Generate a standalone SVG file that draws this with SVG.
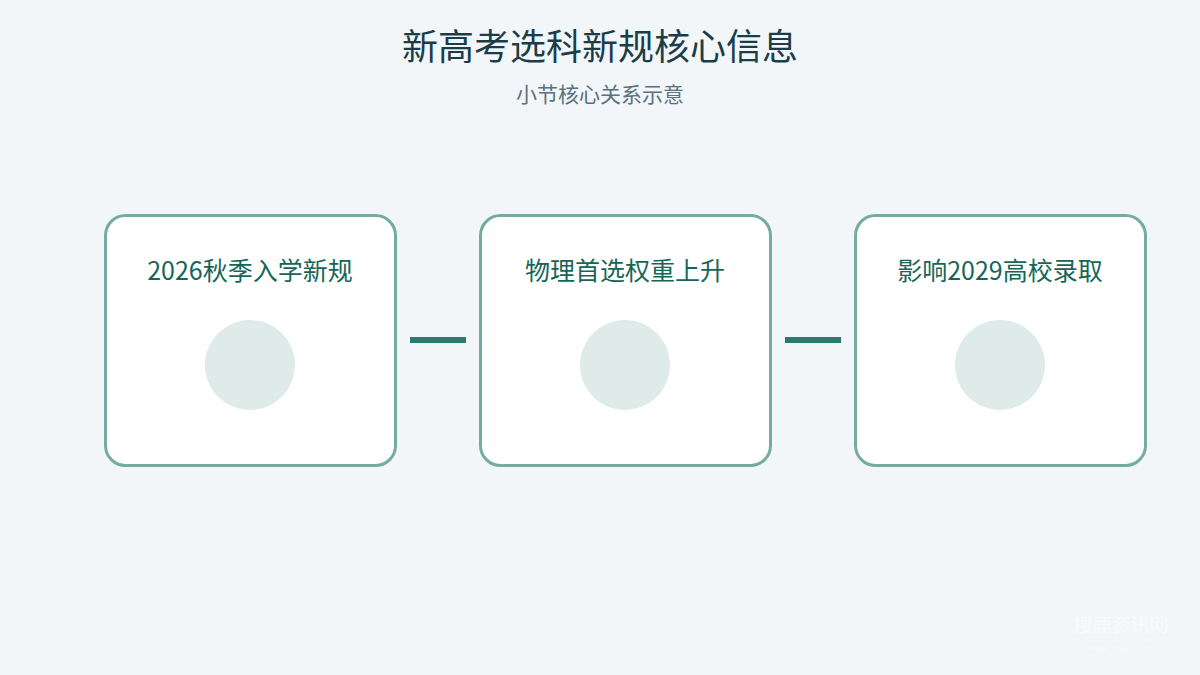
<svg xmlns="http://www.w3.org/2000/svg" width="1200" height="675" viewBox="0 0 1200 675">
<style>
.bg{fill:#f2f6f9}
.title{font-family:"Noto Sans CJK SC","Noto Sans",sans-serif;font-size:36px;fill:#1b3d48;text-anchor:middle;font-weight:400}
.sub{font-family:"Noto Sans CJK SC","Noto Sans",sans-serif;font-size:21px;fill:#5a717c;text-anchor:middle}
.card{fill:#ffffff;stroke:#74ad9f;stroke-width:3}
.label{font-family:"Noto Sans CJK SC","Noto Sans",sans-serif;font-size:25px;fill:#166658;text-anchor:middle}
.dot{fill:#deebe8}
.conn{fill:#2e7a70}
.wm{font-family:"Noto Sans CJK SC","Noto Sans",sans-serif;fill:#ffffff;fill-opacity:0.55;text-anchor:middle}
</style>
<rect class="bg" x="0" y="0" width="1200" height="675"/>
<text class="title" x="600" y="60">新高考选科新规核心信息</text>
<text class="sub" x="600" y="102">小节核心关系示意</text>
<g id="connectors">
<rect class="conn" x="410" y="337" width="56" height="6"/>
<rect class="conn" x="785" y="337" width="56" height="6"/>
</g>
<g id="node1">
<rect class="card" x="105.5" y="215.5" width="290" height="250" rx="20"/>
<text class="label" x="250" y="280">2026秋季入学新规</text>
<circle class="dot" cx="250" cy="365" r="45"/>
</g>
<g id="node2">
<rect class="card" x="480.5" y="215.5" width="290" height="250" rx="20"/>
<text class="label" x="625" y="280">物理首选权重上升</text>
<circle class="dot" cx="625" cy="365" r="45"/>
</g>
<g id="node3">
<rect class="card" x="855.5" y="215.5" width="290" height="250" rx="20"/>
<text class="label" x="1000" y="280">影响2029高校录取</text>
<circle class="dot" cx="1000" cy="365" r="45"/>
</g>
<g id="watermark">
<text class="wm" x="1121" y="632" font-size="19">搜鹿资讯网</text>
<text class="wm" x="1121" y="651" font-size="9">www.soulu.com</text>
</g>
</svg>
